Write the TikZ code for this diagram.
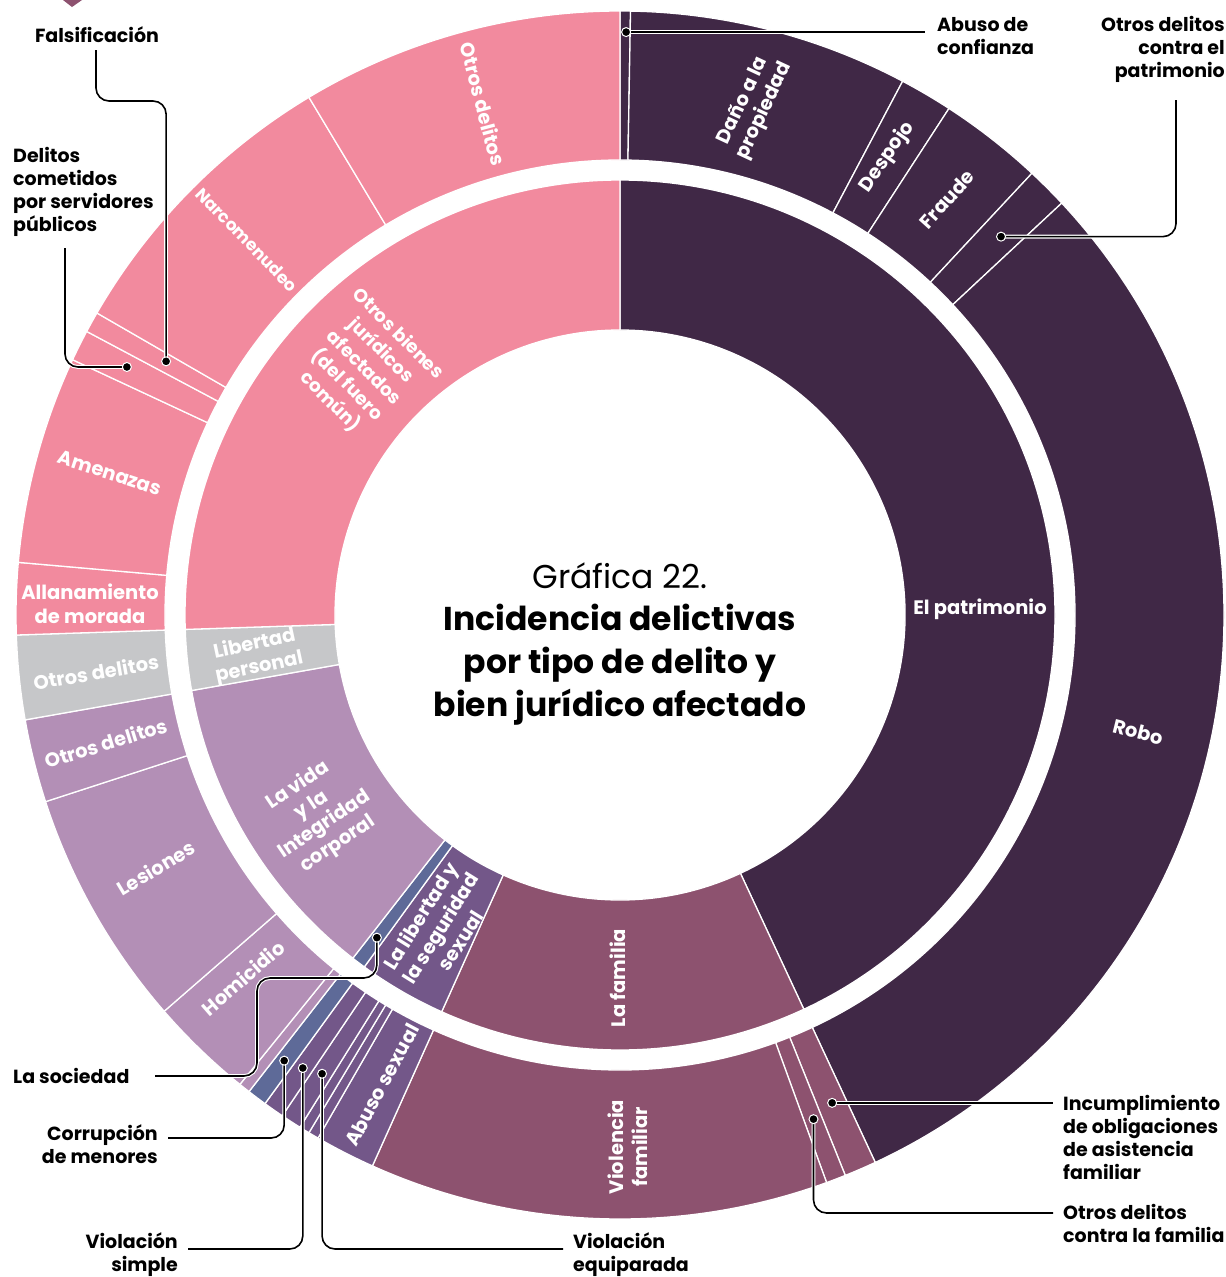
\documentclass[tikz,border=0pt]{standalone}
\usepackage{fontspec}
\setmainfont{Poppins}
\definecolor{cPat}{HTML}{402846}
\definecolor{cPink}{HTML}{F28A9E}
\definecolor{cGray}{HTML}{C6C7C9}
\definecolor{cVida}{HTML}{B38FB6}
\definecolor{cSoc}{HTML}{5E6A98}
\definecolor{cSex}{HTML}{735789}
\definecolor{cFam}{HTML}{8D526F}
\newcommand\ringseg[5]{\filldraw[seg, fill=#5] (#1:#4) arc[start angle=#1, end angle=#2, radius=#4] -- (#2:#3) arc[start angle=#2, end angle=#1, radius=#3] -- cycle;}
\begin{document}
\begin{tikzpicture}[x=1pt,y=1pt,
  seg/.style={draw=white, line width=1.3pt, line join=round},
  lab/.style={font=\bfseries\fontsize{19}{23}\selectfont, text=black, inner sep=0pt},
  wlab/.style={font=\bfseries\fontsize{19.5}{23.5}\selectfont, text=white, inner sep=0pt, align=center},
  leader/.style={preaction={draw=white, line width=3.8pt}, draw=black, line width=1.6pt, rounded corners=13pt},
  dotst/.style={circle, fill=black, draw=white, line width=1pt, inner sep=0pt, minimum size=9pt}]
\fill[white] (0,0) rectangle (1226,-1277);
\useasboundingbox (0,0) rectangle (1226,-1277);
\fill[cFam] (63,0) -- (82,0) -- (72,-7) -- cycle;
\begin{scope}[shift={(620,-615)}]
% inner ring
\ringseg{90}{-65}{285}{435}{cPat}
\ringseg{-65}{-114.2}{285}{435}{cFam}
\ringseg{-114.2}{-126}{285}{435}{cSex}
\ringseg{-126}{-127.9}{285}{435}{cSoc}
\ringseg{-127.9}{-170}{285}{435}{cVida}
\ringseg{-170}{-178.1}{285}{435}{cGray}
\ringseg{-178.1}{-270}{285}{435}{cPink}
% outer ring
\ringseg{90}{89}{455}{604}{cPat}
\ringseg{89}{62.1}{455}{604}{cPat}
\ringseg{62.1}{57}{455}{604}{cPat}
\ringseg{57}{47}{455}{604}{cPat}
\ringseg{47}{43}{455}{604}{cPat}
\ringseg{43}{-65}{455}{604}{cPat}
\ringseg{-65}{-68.1}{455}{604}{cFam}
\ringseg{-68.1}{-70}{455}{604}{cFam}
\ringseg{-70}{-114.2}{455}{604}{cFam}
\ringseg{-114.2}{-120}{455}{604}{cSex}
\ringseg{-120}{-121}{455}{604}{cSex}
\ringseg{-121}{-122}{455}{604}{cSex}
\ringseg{-122}{-124}{455}{604}{cSex}
\ringseg{-124}{-126}{455}{604}{cSex}
\ringseg{-126}{-127.9}{455}{604}{cSoc}
\ringseg{-127.9}{-129}{455}{604}{cVida}
\ringseg{-129}{-139}{455}{604}{cVida}
\ringseg{-139}{-162}{455}{604}{cVida}
\ringseg{-162}{-170}{455}{604}{cVida}
\ringseg{-170}{-178.1}{455}{604}{cGray}
\ringseg{-178.1}{-185}{455}{604}{cPink}
\ringseg{-185}{-205}{455}{604}{cPink}
\ringseg{-205}{-208}{455}{604}{cPink}
\ringseg{-208}{-210}{455}{604}{cPink}
\ringseg{-210}{-239}{455}{604}{cPink}
\ringseg{-239}{-270}{455}{604}{cPink}
% leader dots
\coordinate (dAC) at (89.4:583);
\coordinate (dOP) at (44.8:537);
\coordinate (dIN) at (-66.5:532);
\coordinate (dOF) at (-69:540);
\coordinate (dFA) at (150.8:520);
\coordinate (dSP) at (153.3:552);
\coordinate (dSO) at (-127:404);
\coordinate (dCM) at (-127:558);
\coordinate (dVS) at (-125:553);
\coordinate (dVE) at (-123:547);
\end{scope}
% title
\node[anchor=base, font=\fontsize{33}{43}\selectfont] (tit0) at (620,-588) {Gráfica 22.};
\node[anchor=base, font=\bfseries\fontsize{33}{43}\selectfont] (tit1) at (620,-630) {Incidencia delictivas};
\node[anchor=base, font=\bfseries\fontsize{33}{43}\selectfont] (tit2) at (620,-673) {por tipo de delito y};
\node[anchor=base, font=\bfseries\fontsize{33}{43}\selectfont] (tit3) at (620,-716) {bien jurídico afectado};
% segment labels
\node[wlab, rotate=-75] (tOD1) at (483,-104) {Otros delitos};
\node[wlab, rotate=65] (tDP) at (754,-106) {Daño a la\\propiedad};
\node[wlab, rotate=55] (tDE) at (887,-157) {Despojo};
\node[wlab, rotate=48] (tFR) at (947,-199) {Fraude};
\node[wlab, rotate=-14] (tRO) at (1138,-732) {Robo};
\node[wlab] (tPA) at (980,-609) {El patrimonio};
\node[wlab, rotate=90] (tFM) at (618,-978) {La familia};
\node[wlab, rotate=90] (tVF) at (628,-1147) {Violencia\\familiar};
\node[wlab, rotate=62] (tAS) at (382,-1085) {Abuso sexual};
\node[wlab, rotate=58] (tLS) at (440,-928) {La libertad y\\la seguridad\\sexual};
\node[wlab, rotate=34] (tVI) at (318,-815) {La vida\\y la\\Integridad\\corporal};
\node[wlab, rotate=12] (tLP) at (257,-656) {Libertad\\personal};
\node[wlab, rotate=-45, font=\bfseries\fontsize{18.5}{24}\selectfont] (tOB) at (364,-368) {Otros bienes\\jurídicos\\afectados\\(del fuero\\común)};
\node[wlab, rotate=-46, font=\bfseries\fontsize{17}{21}\selectfont] (tNA) at (247,-240) {Narcomenudeo};
\node[wlab, rotate=-18] (tAM) at (110,-473) {Amenazas};
\node[wlab] (tAL) at (90,-604) {Allanamiento\\de morada};
\node[wlab, rotate=10] (tOD2) at (96,-672) {Otros delitos};
\node[wlab, rotate=17] (tOD3) at (106,-743) {Otros delitos};
\node[wlab, rotate=31] (tLE) at (156,-868) {Lesiones};
\node[wlab, rotate=41] (tHO) at (243,-978) {Homicidio};
% outside labels
\node[lab, anchor=west, align=left] (lAC) at (937,-36) {Abuso de\\confianza};
\node[lab, anchor=east, align=right] (lOP) at (1225,-49) {Otros delitos\\contra el\\patrimonio};
\node[lab, anchor=west, align=left] (lIN) at (1063,-1137) {Incumplimiento\\de obligaciones\\de asistencia\\familiar};
\node[lab, anchor=west, align=left] (lOF) at (1063,-1223) {Otros delitos\\contra la familia};
\node[lab] (lFA) at (97,-35) {Falsificación};
\node[lab, anchor=west, align=left] (lSP) at (13,-192) {Delitos\\cometidos\\por servidores\\públicos};
\node[lab, anchor=west] (lSO) at (13,-1076) {La sociedad};
\node[lab, anchor=east, align=right] (lCM) at (158,-1144) {Corrupción\\de menores};
\node[lab, anchor=east, align=right] (lVS) at (178,-1255) {Violación\\simple};
\node[lab, anchor=west, align=left] (lVE) at (573,-1255) {Violación\\equiparada};
% leader free ends
\coordinate (eAC) at (925,0);
\coordinate (eOP) at (1176,-100);
\coordinate (eIN) at (1053,0);
\coordinate (eOF) at (1053,-1213);
\coordinate (eFA) at (96,-50);
\coordinate (eSP) at (65,-248);
\coordinate (eSO) at (155,-1076);
\coordinate (eCM) at (168,-1138);
\coordinate (eVS) at (188,-1249);
\coordinate (eVE) at (563,-1249);
% leaders
\draw[leader] (dAC) -- (dAC -| eAC);
\draw[leader] (dOP) -- (dOP -| eOP) -- (eOP);
\draw[leader] (dIN) -- (dIN -| eIN);
\draw[leader] (dOF) -- (dOF |- eOF) -- (eOF);
\draw[leader] (eFA) -- (96,-101) -- (dFA |- 0,-101) -- (dFA);
\draw[leader] (eSP) -- (eSP |- dSP) -- (dSP);
\draw[leader] (eSO) -- (257,-1076) -- (257,-978) -- (dSO |- 0,-978) -- (dSO);
\draw[leader] (dCM) -- (dCM |- eCM) -- (eCM);
\draw[leader] (dVS) -- (dVS |- eVS) -- (eVS);
\draw[leader] (dVE) -- (dVE |- eVE) -- (eVE);
% dots
\foreach \d in {dAC,dOP,dIN,dOF,dFA,dSP,dSO,dCM,dVS,dVE}
  \node[dotst] (n\d) at (\d) {};
\end{tikzpicture}
\end{document}
